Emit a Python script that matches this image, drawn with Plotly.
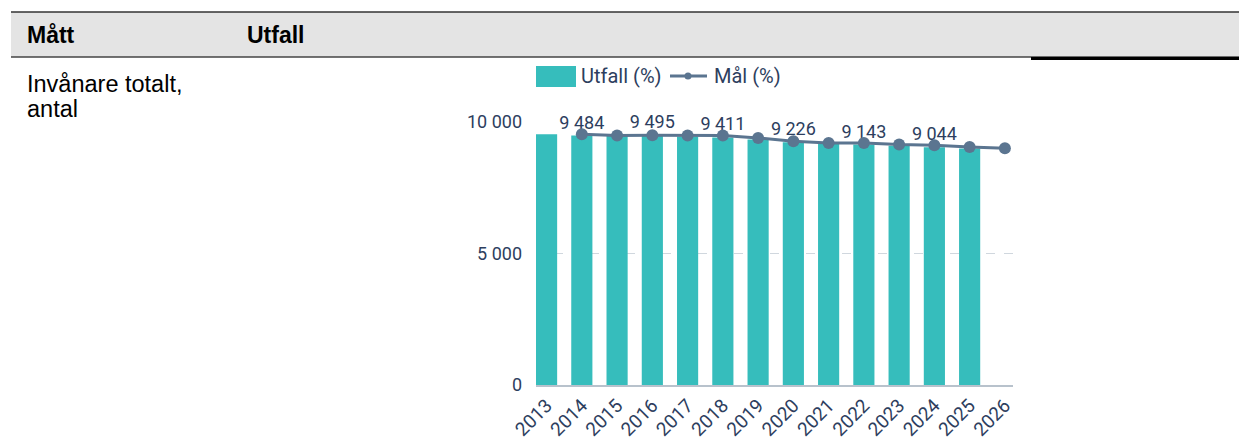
import plotly.graph_objects as go

# data
years = [2013, 2014, 2015, 2016, 2017, 2018, 2019, 2020, 2021, 2022, 2023, 2024, 2025, 2026]
utfall = [9533, 9484, 9489, 9495, 9450, 9411, 9330, 9226, 9180, 9143, 9095, 9044, 8990, None]
mal = [None, 9533, 9484, 9495, 9484, 9484, 9393, 9268, 9204, 9204, 9143, 9116, 9052, 9003]
# only every other bar gets a label in the original
labelled = [2014, 2016, 2018, 2020, 2022, 2024]

TEAL = "#36bdbc"
SLATE = "#5b7590"
NAVY = "#2d3e5e"
W, H = 1239, 444
# plot area in pixels
L, R, T, B = 536, 1013, 122, 385


def px(x):
    return (x - L) / (R - L)


def py(y):
    return (B - y) / (B - T)


def fmt(v):
    return f"{v:,}".replace(",", " ")


bar_text = [fmt(v) if (y in labelled and v is not None) else "" for y, v in zip(years, utfall)]

fig = go.Figure()
fig.add_trace(go.Bar(x=years, y=utfall, name="Utfall (%)", marker_color=TEAL,
                     marker_line_width=0, width=0.6,
                     text=bar_text, textposition="outside", constraintext="none",
                     textfont=dict(family="Roboto", size=18, color=NAVY),
                     cliponaxis=False))
fig.add_trace(go.Scatter(x=years, y=mal, name="Mål (%)", mode="lines+markers",
                         line=dict(color=SLATE, width=3),
                         marker=dict(color=SLATE, size=12),
                         cliponaxis=False))

shapes = [
    # header band
    dict(type="rect", xref="paper", yref="paper", x0=px(11), x1=px(W), y0=py(57), y1=py(12),
         fillcolor="#e4e4e4", line_width=0, layer="below"),
    dict(type="line", xref="paper", yref="paper", x0=px(11), x1=px(W), y0=py(12), y1=py(12),
         line=dict(color="#333333", width=1.5)),
    dict(type="line", xref="paper", yref="paper", x0=px(11), x1=px(W), y0=py(57), y1=py(57),
         line=dict(color="#444444", width=1.5)),
    dict(type="line", xref="paper", yref="paper", x0=px(1031), x1=px(W), y0=py(58.5), y1=py(58.5),
         line=dict(color="#000000", width=3)),
    # legend
    dict(type="rect", xref="paper", yref="paper", x0=px(536), x1=px(576), y0=py(87), y1=py(66),
         fillcolor=TEAL, line_width=0),
    dict(type="line", xref="paper", yref="paper", x0=px(670), x1=px(707), y0=py(76), y1=py(76),
         line=dict(color=SLATE, width=3)),
    dict(type="circle", xref="paper", yref="paper", x0=px(684.5), x1=px(691.5), y0=py(79.5), y1=py(72.5),
         fillcolor=SLATE, line_width=0),
]

hdr = dict(family="Liberation Sans", size=23, color="#000000")
annotations = [
    dict(text="<b>Mått</b>", x=px(25), y=py(35), yanchor="middle"),
    dict(text="<b>Utfall</b>", x=px(245), y=py(35), yanchor="middle"),
    dict(text="Invånare totalt,", x=px(25), y=py(84), yanchor="middle", font=dict(size=23.5)),
    dict(text="antal", x=px(25), y=py(109), yanchor="middle", font=dict(size=23.5)),
]
for a in annotations:
    f = dict(hdr)
    f.update(a.pop("font", {}))
    a.update(xref="paper", yref="paper", showarrow=False, xanchor="left", font=f)
for txt, x in [("Utfall (%)", 579), ("Mål (%)", 712)]:
    annotations.append(dict(text=txt, x=px(x), y=py(76), xanchor="left", yanchor="middle",
                            xref="paper", yref="paper", showarrow=False,
                            font=dict(family="Roboto", size=20, color=NAVY)))

fig.update_layout(
    width=W, height=H,
    margin=dict(l=L, r=W - R, t=T, b=H - B, pad=0),
    plot_bgcolor="white", paper_bgcolor="white",
    separators=", ",
    showlegend=False,
    shapes=shapes, annotations=annotations,
)
fig.update_xaxes(range=[2012.7, 2026.23], tickvals=years, ticktext=[str(y) for y in years],
                 tickangle=-45, showgrid=False, zeroline=False, automargin=False,
                 showline=True, linecolor="#b8c2cc", linewidth=2,
                 ticks="", tickfont=dict(family="Roboto", size=19, color=NAVY))
fig.update_yaxes(range=[0, 10000], tickvals=[0, 5000, 10000], tickformat=",",
                 showgrid=True, gridcolor="#d0d7de", griddash="dash", gridwidth=1,
                 zeroline=False, showline=False, ticks="", automargin=False,
                 ticklabelstandoff=13,
                 tickfont=dict(family="Roboto", size=18, color=NAVY))

# page body has an 8px margin by default, drop it so the figure sits at 0,0
fig.write_html("out.html", config={"displayModeBar": False},
               post_script="document.body.style.margin='0px';")
